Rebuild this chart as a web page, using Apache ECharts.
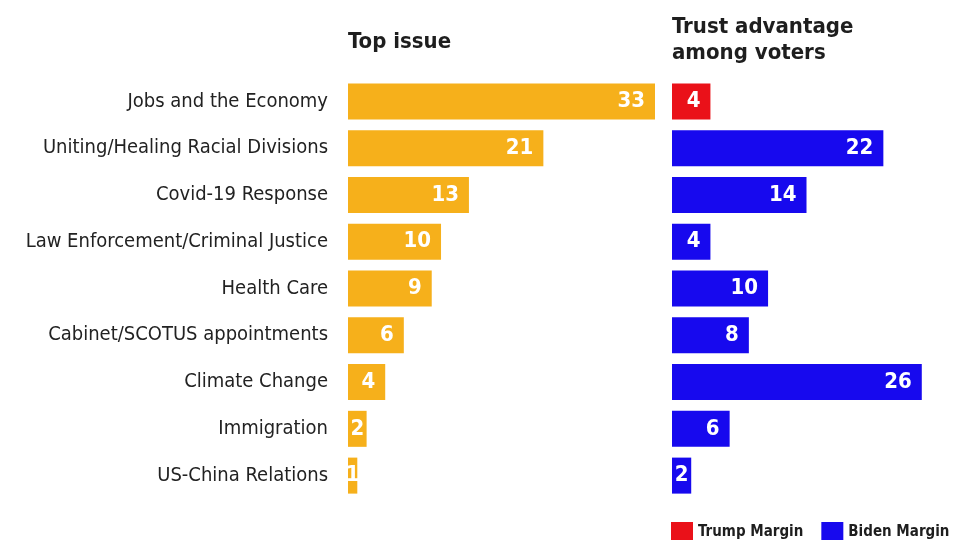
<!DOCTYPE html>
<html>
<head>
<meta charset="utf-8">
<title>Top issue and trust advantage</title>
<script src="https://cdn.jsdelivr.net/npm/echarts@6/dist/echarts.min.js"></script>
<style>
  html, body { margin: 0; padding: 0; background: #ffffff; }
  #chart { width: 957px; height: 540px; }
</style>
</head>
<body>
<div id="chart"></div>
<script>
// Issues, top to bottom
const issues = [
  'Jobs and the Economy',
  'Uniting/Healing Racial Divisions',
  'Covid-19 Response',
  'Law Enforcement/Criminal Justice',
  'Health Care',
  'Cabinet/SCOTUS appointments',
  'Climate Change',
  'Immigration',
  'US-China Relations'
];

// Share naming each issue as the top issue
const topIssue = [33, 21, 13, 10, 9, 6, 4, 2, 1];

// Trust advantage margins ('-' where the other candidate leads)
const trumpMargin = [4, '-', '-', '-', '-', '-', '-', '-', '-'];
const bidenMargin = ['-', 22, 14, 4, 10, 8, 26, 6, 2];

const FONT = '"DejaVu Sans Condensed", "Liberation Sans Narrow", "Roboto", sans-serif';
const GOLD = '#F6B01B';
const RED = '#EA1119';
const BLUE = '#1709EE';
const INK = '#1e1e1e';

// Tiny bars get their number centred, longer bars get it at the end
function withLabels(values) {
  return values.map(v => {
    if (v === '-') return v;
    return {
      value: v,
      label: { position: v <= 2 ? 'inside' : 'insideRight' }
    };
  });
}

const valueLabel = {
  show: true,
  position: 'insideRight',
  distance: 10,
  color: '#ffffff',
  fontFamily: FONT,
  fontWeight: 'bold',
  fontSize: 22
};

const chart = echarts.init(document.getElementById('chart'), null, { renderer: 'canvas' });

chart.setOption({
  backgroundColor: '#ffffff',
  animation: false,
  textStyle: { fontFamily: FONT },
  title: [
    {
      text: 'Top issue',
      left: 343,
      top: 26,
      textStyle: { fontFamily: FONT, fontWeight: 'bold', fontSize: 22, color: INK }
    },
    {
      text: 'Trust advantage\namong voters',
      left: 667,
      top: 9,
      textStyle: { fontFamily: FONT, fontWeight: 'bold', fontSize: 22, lineHeight: 26, color: INK }
    }
  ],
  legend: {
    left: 671,
    top: 522,
    padding: 0,
    itemWidth: 22,
    itemHeight: 20,
    itemGap: 18,
    icon: 'rect',
    data: ['Trump Margin', 'Biden Margin'],
    textStyle: { fontFamily: FONT, fontWeight: 'bold', fontSize: 15, color: INK }
  },
  grid: [
    { left: 348, top: 78, height: 421, width: 307, containLabel: false },
    { left: 672, top: 78, height: 421, width: 269, containLabel: false }
  ],
  xAxis: [
    { gridIndex: 0, type: 'value', min: 0, max: 33, show: false },
    { gridIndex: 1, type: 'value', min: 0, max: 28, show: false }
  ],
  yAxis: [
    {
      gridIndex: 0,
      type: 'category',
      data: issues,
      inverse: true,
      axisLine: { show: false },
      axisTick: { show: false },
      axisLabel: {
        margin: 20,
        fontFamily: FONT,
        fontSize: 20,
        color: '#222222'
      }
    },
    {
      gridIndex: 1,
      type: 'category',
      data: issues,
      inverse: true,
      show: false
    }
  ],
  series: [
    {
      name: 'Top issue',
      type: 'bar',
      xAxisIndex: 0,
      yAxisIndex: 0,
      data: withLabels(topIssue),
      barWidth: 36,
      itemStyle: { color: GOLD },
      label: valueLabel
    },
    {
      name: 'Trump Margin',
      type: 'bar',
      xAxisIndex: 1,
      yAxisIndex: 1,
      data: withLabels(trumpMargin),
      barWidth: 36,
      barGap: '-100%',
      itemStyle: { color: RED },
      label: valueLabel
    },
    {
      name: 'Biden Margin',
      type: 'bar',
      xAxisIndex: 1,
      yAxisIndex: 1,
      data: withLabels(bidenMargin),
      barWidth: 36,
      barGap: '-100%',
      itemStyle: { color: BLUE },
      label: valueLabel
    }
  ]
});
</script>
</body>
</html>
